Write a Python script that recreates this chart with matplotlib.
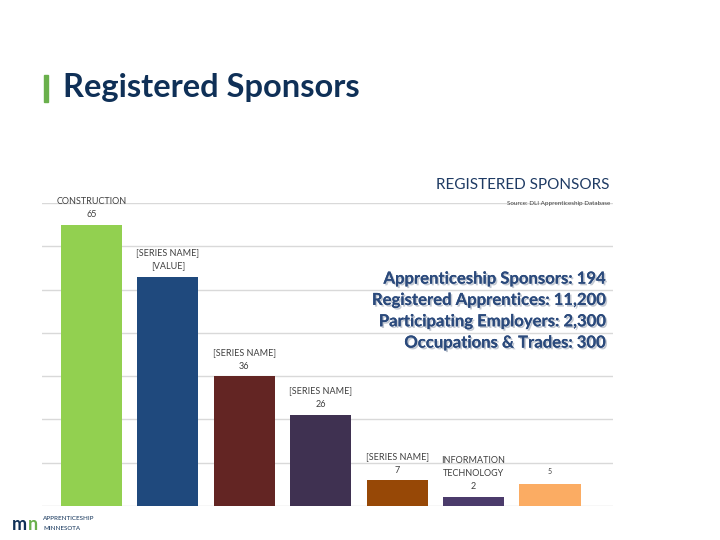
import matplotlib.pyplot as plt
import matplotlib.patheffects as pe
import numpy as np

plt.rcParams['font.family'] = ['Lato', 'DejaVu Sans']

# bar heights as drawn (the printed labels differ from the bar heights)
values = [65, 53, 30, 21, 6, 2, 5]
labels = ["CONSTRUCTION\n65", "[SERIES NAME]\n[VALUE]", "[SERIES NAME]\n36",
          "[SERIES NAME]\n26", "[SERIES NAME]\n7", "INFORMATION\nTECHNOLOGY\n2", "5"]
colors = ["#92d050", "#1f497d", "#632523", "#3f3151", "#974806", "#4b3b6b", "#fbac63"]
label_gap = [1.3, 1.5, 1.3, 1.5, 1.2, 1.4, 2.2]
label_size = [6.5, 6.5, 6.5, 6.5, 6.5, 6.5, 5]

stats = ["Apprenticeship Sponsors: 194",
         "Registered Apprentices: 11,200",
         "Participating Employers: 2,300",
         "Occupations & Trades: 300"]

fig = plt.figure(figsize=(7.2, 5.4), dpi=100)
fig.patch.set_facecolor("white")

# title bar
fig.patches.append(plt.Rectangle((0.061, 0.811), 0.006, 0.05, transform=fig.transFigure,
                                 color="#6ab04c"))
fig.text(0.088, 0.838, "Registered Sponsors", fontsize=23.5, fontweight="bold",
         color="#0f3057", va="center", ha="left")

ax = fig.add_axes([0.058, 0.063, 0.793, 0.561])
x = np.arange(len(values))
ax.bar(x, values, width=0.8, color=colors, zorder=2)
ax.set_ylim(0, 70)
ax.set_xlim(-0.65, 6.82)
ax.set_yticks(np.arange(0, 71, 10))
ax.yaxis.grid(True, color="#d9d9d9", lw=1, zorder=0)
ax.set_xticks([])
ax.tick_params(left=False, labelleft=False)
for s in ax.spines.values():
    s.set_visible(False)

for xi, v, lab, g, fs in zip(x, values, labels, label_gap, label_size):
    ax.text(xi, v + g, lab, ha="center", va="bottom", fontsize=fs,
            color="#404040", linespacing=1.6)

fig.text(0.847, 0.657, "REGISTERED SPONSORS", fontsize=11, color="#1f3b64",
         ha="right", va="center")
fig.text(0.847, 0.624, "Source: DLI Apprenticeship Database", fontsize=4.5,
         color="#404040", ha="right", va="center")

shadow = [pe.withSimplePatchShadow(offset=(1.2, -1.2), shadow_rgbFace="#9aa4b4", alpha=0.6),
          pe.Normal()]
for i, s in enumerate(stats):
    y = 0.484 - i * 0.0395
    fig.text(0.840, y, s, fontsize=12, fontweight="bold", color="#2b4a7c",
             ha="right", va="center", path_effects=shadow)

# logo
fig.text(0.016, 0.028, "m", fontsize=13, fontweight="bold", color="#0f3057",
         ha="left", va="center")
fig.text(0.039, 0.028, "n", fontsize=13, fontweight="bold", color="#6ab04c",
         ha="left", va="center")
fig.text(0.060, 0.039, "APPRENTICESHIP", fontsize=4.5, color="#0f3057", ha="left", va="center")
fig.text(0.060, 0.021, "MINNESOTA", fontsize=4.5, color="#0f3057", ha="left", va="center")

fig.savefig("out.png", dpi=100)
